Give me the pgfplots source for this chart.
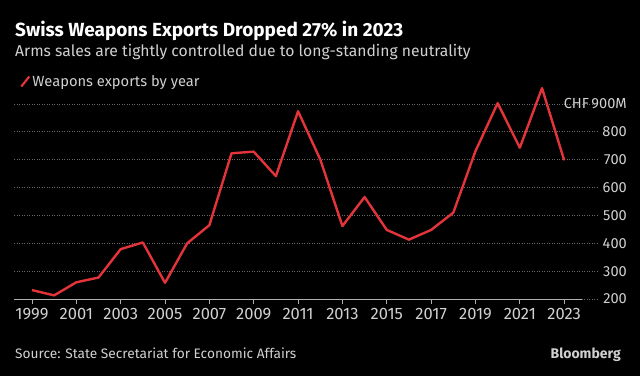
\documentclass[border=0pt]{standalone}
\usepackage{fontspec}
\setmainfont{Fira Sans}
\usepackage{pgfplots}
\pgfplotsset{compat=1.18}
\definecolor{bbred}{HTML}{E3343A}
\definecolor{txtgrey}{HTML}{D0D0D0}
\definecolor{gridgrey}{HTML}{6A6A6A}
\definecolor{axisgrey}{HTML}{B0B0B0}
\begin{document}
\begin{tikzpicture}[x=1pt,y=1pt]
\fill[black] (0,0) rectangle (640,376);
\node[anchor=base west, inner sep=0, text=white, font=\fontsize{19}{22}\selectfont\bfseries] at (15,340) {Swiss Weapons Exports Dropped 27\% in 2023};
\node[anchor=base west, inner sep=0, text=txtgrey, font=\fontsize{15.7}{18}\selectfont] at (15,320) {Arms sales are tightly controlled due to long-standing neutrality};
\node[anchor=base west, inner sep=0, text=txtgrey, font=\fontsize{13.7}{16}\selectfont] at (15,18) {Source: State Secretariat for Economic Affairs};
\node[anchor=base east, inner sep=0, text=txtgrey, font=\fontsize{14}{16}\selectfont\bfseries] at (621,18) {Bloomberg};
\begin{axis}[
  at={(14pt,77pt)}, anchor=south west,
  scale only axis, width=583pt, height=214.5pt,
  xmin=1998.19, xmax=2024.48, ymin=200, ymax=970,
  axis line style={draw=none},
  xtick={1999,2001,...,2023},
  xtick pos=bottom, tick align=outside,
  major tick length=5pt,
  tick style={axisgrey, line width=0.8pt},
  ytick={200,300,...,900},
  yticklabels={200,300,400,500,600,700,800,{CHF\,900M}},
  ytick style={draw=none},
  yticklabel pos=right,
  ymajorgrids,
  grid style={gridgrey, line width=0.8pt, dash pattern=on 1pt off 1.5pt},
  /pgf/number format/assume math mode=true,
  /pgf/number format/1000 sep={},
  xticklabel style={text=txtgrey, font=\fontsize{16.5}{18}\selectfont, yshift=-1pt},
  yticklabel style={text=txtgrey, font=\fontsize{14.6}{17}\selectfont, anchor=east, inner sep=0pt, xshift=25pt},
  legend style={at={(axis description cs:0,1)}, anchor=south west, xshift=6pt, yshift=-5.5pt, draw=none, fill=none, text=txtgrey, font=\fontsize{14.7}{17}\selectfont, inner sep=0pt},
  legend cell align=left,
  legend image code/.code={\draw[bbred, line width=2.2pt] (0pt,-5pt) -- (8pt,5pt);},
]
\draw[axisgrey, line width=1pt] (axis cs:1998.19,200) -- (axis cs:2023.82,200);
\addplot[bbred, line width=2.4pt, line join=round] coordinates {
(1999,232) (2000,213) (2001,260) (2002,277) (2003,379) (2004,403)
(2005,258) (2006,400) (2007,465) (2008,723) (2009,729) (2010,641)
(2011,874) (2012,701) (2013,462) (2014,566) (2015,448) (2016,413)
(2017,448) (2018,510) (2019,731) (2020,903) (2021,743) (2022,957)
(2023,698)};
\addlegendentry{Weapons exports by year}
\end{axis}
\end{tikzpicture}
\end{document}
